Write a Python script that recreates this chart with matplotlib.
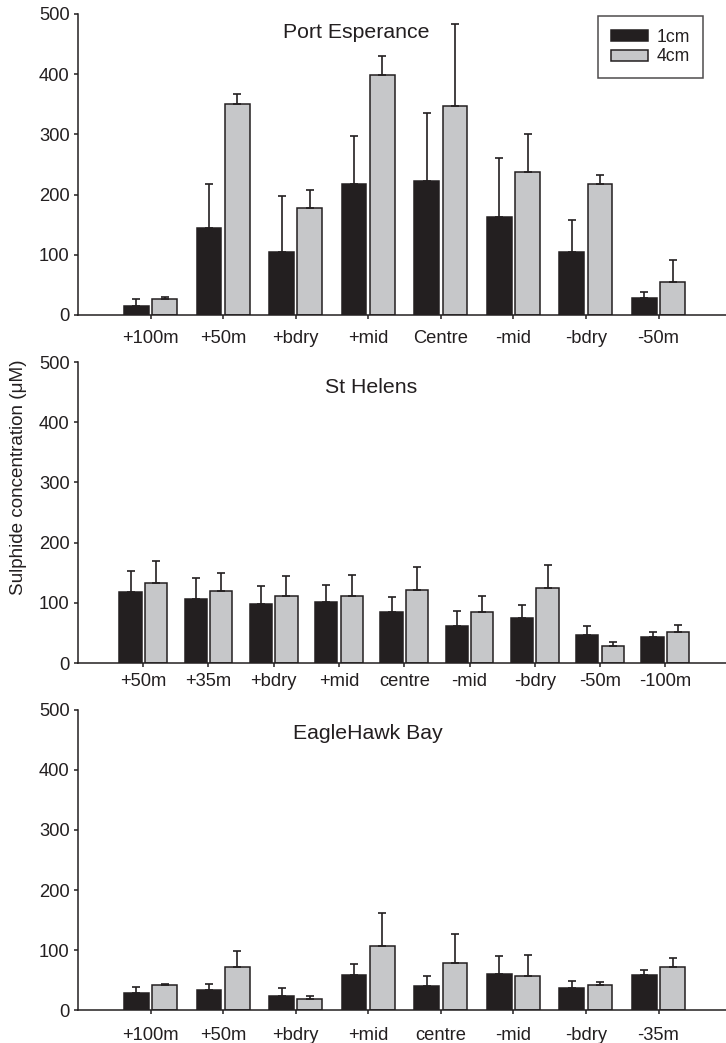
"""Sulphide concentration at 1cm and 4cm depth, three sites."""
import matplotlib.pyplot as plt
import numpy as np

plt.rcParams['font.family'] = ['Liberation Sans', 'DejaVu Sans']

pe_sites = ['+100m', '+50m', '+bdry', '+mid', 'Centre', '-mid', '-bdry', '-50m']
pe_1cm = [15, 144, 105, 218, 222, 162, 105, 29]
pe_1cm_err = [11, 73, 92, 80, 113, 99, 53, 10]
pe_4cm = [27, 351, 178, 398, 347, 238, 217, 55]
pe_4cm_err = [3, 16, 29, 32, 137, 62, 16, 37]

sh_sites = ['+50m', '+35m', '+bdry', '+mid', 'centre', '-mid', '-bdry', '-50m', '-100m']
sh_1cm = [118, 106, 98, 101, 84, 62, 75, 47, 43]
sh_1cm_err = [35, 36, 30, 28, 26, 25, 21, 15, 9]
sh_4cm = [133, 119, 112, 112, 121, 85, 124, 28, 51]
sh_4cm_err = [36, 31, 32, 34, 38, 27, 39, 7, 12]

eh_sites = ['+100m', '+50m', '+bdry', '+mid', 'centre', '-mid', '-bdry', '-35m']
eh_1cm = [29, 34, 24, 58, 40, 60, 36, 58]
eh_1cm_err = [9, 10, 13, 19, 17, 30, 12, 9]
eh_4cm = [41, 72, 19, 107, 78, 57, 41, 71]
eh_4cm_err = [3, 27, 4, 54, 49, 35, 5, 16]

panels = [
    ('Port Esperance', pe_sites, pe_1cm, pe_1cm_err, pe_4cm, pe_4cm_err),
    ('St Helens', sh_sites, sh_1cm, sh_1cm_err, sh_4cm, sh_4cm_err),
    ('EagleHawk Bay', eh_sites, eh_1cm, eh_1cm_err, eh_4cm, eh_4cm_err),
]

dark = '#231f20'
light = '#c6c7c9'
ink = '#231f20'

fig = plt.figure(figsize=(7.26, 10.43), dpi=100)
boxes = [[0.1074, 0.698, 0.8926, 0.2886],
         [0.1074, 0.3643, 0.8926, 0.2886],
         [0.1074, 0.0316, 0.8926, 0.2877]]
title_pos = [(0.429, 0.937), (0.452, 0.914), (0.448, 0.923)]
label_pad = [7.5, 4.5, 9]

w = 0.34
off = 0.195
for k, (name, sites, a, a_err, b, b_err) in enumerate(panels):
    ax = fig.add_axes(boxes[k])
    x = np.arange(len(sites))
    ekw = dict(ecolor=ink, elinewidth=1.2, capsize=2.8, capthick=1.2)
    ax.bar(x - off, a, w, color=dark, edgecolor=ink, linewidth=1.1,
           yerr=[np.zeros(len(a)), a_err], error_kw=ekw, label='1cm')
    ax.bar(x + off, b, w, color=light, edgecolor=ink, linewidth=1.1,
           yerr=[np.zeros(len(b)), b_err], error_kw=ekw, label='4cm')
    ax.set_ylim(0, 500)
    ax.set_xlim(-1.0, len(sites) - 0.07)
    ax.set_yticks(range(0, 501, 100))
    ax.set_xticks(x)
    ax.set_xticklabels(sites)
    for s in ['top', 'right']:
        ax.spines[s].set_visible(False)
    for s in ['left', 'bottom']:
        ax.spines[s].set_color(ink)
        ax.spines[s].set_linewidth(1.1)
    ax.tick_params(axis='both', colors=ink, labelsize=13.2, length=3,
                   width=1.1, direction='out')
    ax.tick_params(axis='x', pad=label_pad[k])
    ax.tick_params(axis='y', pad=3)
    ax.text(title_pos[k][0], title_pos[k][1], name, transform=ax.transAxes,
            ha='center', va='center', fontsize=15.3, color=ink)
    if k == 0:
        leg = ax.legend(loc='upper right', bbox_to_anchor=(0.9645, 0.9934),
                        borderaxespad=0, fontsize=12.7, frameon=True,
                        fancybox=False, handlelength=2.1, handleheight=0.57,
                        borderpad=0.72, labelspacing=0.15, handletextpad=0.5)
        leg.get_frame().set_edgecolor(ink)
        leg.get_frame().set_linewidth(1.1)
        for t in leg.get_texts():
            t.set_color(ink)

fig.text(0.025, 1 - 477 / 1043, 'Sulphide concentration (\u03bcM)', rotation=90,
         ha='center', va='center', fontsize=13.6, color=ink)

fig.savefig('out.png', dpi=100)
